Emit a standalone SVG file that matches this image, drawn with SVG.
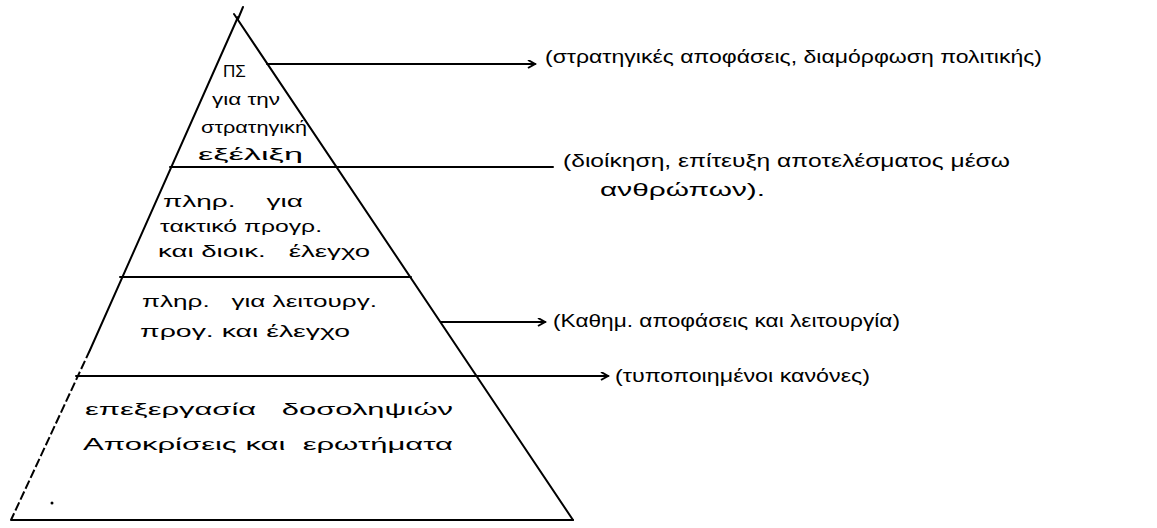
<svg xmlns="http://www.w3.org/2000/svg" width="1157" height="528" viewBox="0 0 1157 528">
<style>
.ln{stroke:#000;stroke-width:2;fill:none;stroke-linecap:round}
.dl{stroke:#000;stroke-width:2;fill:none;stroke-dasharray:9 3}
.t{font-family:"Liberation Sans","DejaVu Sans",sans-serif;font-size:17px;fill:#000}
.lb{font-family:"Liberation Sans","DejaVu Sans",sans-serif;font-size:18px;fill:#000}
</style>
<defs>
<marker id="ah" markerWidth="10" markerHeight="10" refX="8" refY="4" orient="auto" markerUnits="userSpaceOnUse">
<path d="M1,0 L8,4 L1,8" stroke="#000" stroke-width="2" fill="none"/>
</marker>
</defs>
<rect width="1157" height="528" fill="#fff"/>
<g id="pyramid">
<path class="ln" d="M243,7 L238,19"/>
<path class="ln" d="M234,14 L573,520"/>
<path class="ln" d="M238,17 L90,350"/>
<path class="dl" d="M90,350 L11,520"/>
<path class="ln" d="M11,520 L573,520"/>
<path class="ln" d="M170,167 L337,167"/>
<path class="ln" d="M120,277 L411,277"/>
<path class="ln" d="M76,376 L477,376"/>
<circle cx="52" cy="503" r="1.5" fill="#000"/>
</g>
<g id="level1">
<text class="t" x="223" y="77">ΠΣ</text>
<text class="t" x="212" y="105" textLength="68" lengthAdjust="spacingAndGlyphs">για την</text>
<text class="t" x="201" y="133" textLength="106" lengthAdjust="spacingAndGlyphs">στρατηγική</text>
<text class="t" x="198" y="160" textLength="105" lengthAdjust="spacingAndGlyphs">εξέλιξη</text>
</g>
<g id="level2">
<text class="t" x="163" y="207" textLength="140" lengthAdjust="spacingAndGlyphs" xml:space="preserve">πληρ.    για</text>
<text class="t" x="160" y="232" textLength="162" lengthAdjust="spacingAndGlyphs">τακτικό προγρ.</text>
<text class="t" x="158" y="257" textLength="212" lengthAdjust="spacingAndGlyphs" xml:space="preserve">και διοικ.   έλεγχο</text>
</g>
<g id="level3">
<text class="t" x="142" y="307" textLength="235" lengthAdjust="spacingAndGlyphs" xml:space="preserve">πληρ.   για λειτουργ.</text>
<text class="t" x="140" y="337" textLength="210" lengthAdjust="spacingAndGlyphs">προγ. και έλεγχο</text>
</g>
<g id="level4">
<text class="t" x="85" y="415" textLength="368" lengthAdjust="spacingAndGlyphs" xml:space="preserve">επεξεργασία   δοσοληψιών</text>
<text class="t" x="83" y="450" textLength="370" lengthAdjust="spacingAndGlyphs" xml:space="preserve">Αποκρίσεις και  ερωτήματα</text>
</g>
<g id="connectors">
<path class="ln" d="M267,64 L535,64" marker-end="url(#ah)"/>
<path class="ln" d="M337,167 L553,167"/>
<path class="ln" d="M441,322 L545,322" marker-end="url(#ah)"/>
<path class="ln" d="M477,376 L608,376" marker-end="url(#ah)"/>
</g>
<g id="label1">
<text class="lb" x="545" y="63" textLength="497" lengthAdjust="spacingAndGlyphs">(στρατηγικές αποφάσεις, διαμόρφωση πολιτικής)</text>
</g>
<g id="label2">
<text class="lb" x="563" y="167" textLength="447" lengthAdjust="spacingAndGlyphs">(διοίκηση, επίτευξη αποτελέσματος μέσω</text>
<text class="lb" x="600" y="196" textLength="165" lengthAdjust="spacingAndGlyphs">ανθρώπων).</text>
</g>
<g id="label3">
<text class="lb" x="553" y="327" textLength="347" lengthAdjust="spacingAndGlyphs">(Καθημ. αποφάσεις και λειτουργία)</text>
</g>
<g id="label4">
<text class="lb" x="615" y="382" textLength="255" lengthAdjust="spacingAndGlyphs">(τυποποιημένοι κανόνες)</text>
</g>
</svg>
